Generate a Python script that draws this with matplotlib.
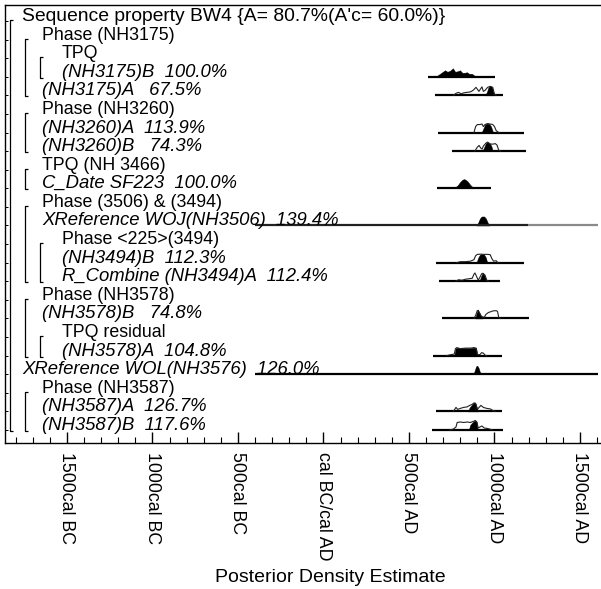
import matplotlib.pyplot as plt
from matplotlib.ticker import MultipleLocator, FixedLocator
import matplotlib.transforms as mtrans

plt.rcParams['font.family'] = ['Liberation Sans', 'DejaVu Sans']

# Row labels (top to bottom), indent level and whether italic (dated items)
labels = [
    "Sequence property BW4 {A= 80.7%(A'c= 60.0%)}",
    "Phase (NH3175)",
    "TPQ",
    "(NH3175)B  100.0%",
    "(NH3175)A   67.5%",
    "Phase (NH3260)",
    "(NH3260)A  113.9%",
    "(NH3260)B   74.3%",
    "TPQ (NH 3466)",
    "C_Date SF223  100.0%",
    "Phase (3506) & (3494)",
    "XReference WOJ(NH3506)  139.4%",
    "Phase <225>(3494)",
    "(NH3494)B  112.3%",
    "R_Combine (NH3494)A  112.4%",
    "Phase (NH3578)",
    "(NH3578)B   74.8%",
    "TPQ residual",
    "(NH3578)A  104.8%",
    "XReference WOL(NH3576)  126.0%",
    "Phase (NH3587)",
    "(NH3587)A  126.7%",
    "(NH3587)B  117.6%",
]
indent = [0, 1, 2, 2, 1, 1, 1, 1, 1, 1, 1, 1, 2, 2, 2, 1, 1, 2, 2, 0, 1, 1, 1]
italic = [0, 0, 0, 1, 1, 0, 1, 1, 0, 1, 0, 1, 0, 1, 1, 0, 1, 0, 1, 1, 0, 1, 1]

# Grouping brackets: (level, first row, last row)
brackets = [(0, 0, 22), (1, 1, 4), (2, 2, 3), (1, 5, 7), (1, 8, 9),
            (1, 10, 14), (2, 12, 14), (1, 15, 18), (2, 17, 18), (1, 20, 22)]

# Plotted range of each distribution (cal years, BC negative)
range_lo = {3: 611, 4: 652, 6: 670, 7: 751, 9: 664, 11: -400, 13: 658,
            14: 676, 16: 693, 18: 640, 19: -400, 21: 658, 22: 634}
range_hi = {3: 1003, 4: 1050, 6: 1170, 7: 1184, 9: 980, 11: 1605, 13: 1173,
            14: 1032, 16: 1202, 18: 1044, 19: 1605, 21: 1044, 22: 1050}
range_grey_from = {11: 1196}

# Prior (unmodelled) likelihoods - outline
prior_years = {
    4: [760, 775, 790, 805, 820, 840, 860, 875, 892, 909, 927, 935, 945, 960, 975, 990, 1000, 1010],
    6: [880, 890, 900, 915, 927, 935, 945, 960, 975, 990, 1000, 1010, 1020, 1030],
    7: [885, 900, 910, 920, 928, 935, 950, 960, 975, 990, 1005, 1015, 1025, 1035],
    13: [780, 800, 830, 860, 880, 890, 900, 920, 940, 960, 975, 985, 995, 1010, 1020],
    14: [775, 790, 810, 830, 850, 870, 880, 886, 895, 905, 915, 925, 933, 945, 955, 965],
    16: [880, 890, 900, 910, 925, 940, 950, 965, 975, 990, 1010, 1018, 1025, 1035],
    18: [720, 745, 765, 772, 780, 800, 830, 860, 880, 893, 900, 915, 925, 935, 945, 955],
    21: [760, 775, 785, 800, 820, 840, 855, 870, 880, 890, 900, 910, 921, 935, 955, 975, 990, 1005],
    22: [740, 760, 775, 782, 800, 820, 840, 860, 875, 888, 897, 905, 915, 927, 940, 960, 980, 990],
}
prior_dens = {
    4: [0, 2, 3, 1.5, 2.5, 3, 3.5, 5, 8, 4, 8.5, 4, 5, 8, 9, 8, 1, 0],
    6: [0, 6, 8, 8, 8.5, 6, 8, 9, 8.5, 8, 6, 2, 0.5, 0],
    7: [0, 4, 5.7, 3, 2, 5, 8, 9, 7, 7, 7.5, 6, 1, 0],
    13: [0, 1, 1, 1.5, 3, 7, 8.3, 8.5, 8.3, 8.3, 8, 4, 1.5, 2, 0],
    14: [0, 1.5, 1, 2, 2.5, 3, 7, 8.3, 5, 1, 4, 7.5, 8, 6, 1, 0],
    16: [0, 3, 8, 6, 2, 1, 4, 6, 6.5, 7.5, 7.8, 7, 1, 0],
    18: [0, 1, 1.5, 7, 8, 7, 7.5, 7.5, 8, 7.5, 1, 1, 3, 2.5, 0.5, 0],
    21: [0, 4, 2, 3, 4, 4.5, 6, 7, 8.5, 8, 2, 4, 6, 4, 3, 2.5, 1, 0],
    22: [0, 1, 3, 7.5, 8, 7.5, 8, 7.5, 8.5, 9.5, 8, 2, 3, 4, 2, 1.5, 0.5, 0],
}

# Posterior (modelled) densities - filled
post_years = {
    3: [640, 665, 690, 711, 725, 740, 757, 770, 785, 798, 812, 825, 839, 852, 868, 880, 895],
    4: [945, 955, 965, 975, 985, 995, 1000],
    6: [925, 935, 945, 956, 970, 980, 990, 995],
    7: [930, 940, 950, 960, 972, 982, 990],
    9: [757, 770, 785, 800, 812, 822, 832, 845, 858, 870, 886],
    11: [895, 905, 915, 925, 940, 950, 960, 970],
    13: [895, 905, 915, 927, 940, 950, 958],
    14: [912, 920, 928, 933, 942, 950, 957],
    16: [888, 895, 903, 912, 920, 928],
    18: [765, 772, 780, 800, 830, 860, 880, 893, 900],
    19: [878, 885, 893, 900, 908, 915, 925, 940, 945],
    21: [845, 855, 865, 875, 885, 892, 898, 905],
    22: [850, 858, 868, 878, 888, 896, 902],
}
post_dens = {
    3: [0, 1, 4, 6.5, 5, 6, 8.5, 5, 5.5, 6.5, 4, 4, 4.5, 3, 3, 1.5, 0],
    4: [0, 3, 8, 9.3, 8.5, 3, 0],
    6: [0, 4, 8, 9, 8.5, 6, 1, 0],
    7: [0, 4, 8, 9, 8, 5, 0],
    9: [0, 1, 3, 6.5, 8.5, 9.2, 8.5, 6.5, 3.5, 1.5, 0],
    11: [0, 3, 7, 9, 9, 7, 3, 0],
    13: [0, 5, 8, 8.5, 8, 5, 0],
    14: [0, 4, 7.5, 8, 6, 2, 0],
    16: [0, 5, 9, 6, 2, 0],
    18: [0, 7, 8, 7, 7.5, 7.5, 8, 7.5, 0],
    19: [0, 4, 8, 8.5, 6, 2, 1, 0.5, 0],
    21: [0, 4, 6, 8, 9, 7, 3, 0],
    22: [0, 5, 7, 8.5, 9.5, 8, 0],
}

tick_years = [-1500, -1000, -500, 0, 500, 1000, 1500]
tick_labels = ["1500cal BC", "1000cal BC", "500cal BC", "cal BC/cal AD",
               "500cal AD", "1000cal AD", "1500cal AD"]

W, H = 601, 589
fig = plt.figure(figsize=(W / 100, H / 100), dpi=100)
ax = fig.add_axes([5 / W, 1 - 443 / H, 596 / W, 438 / H])
ax.set_xlim(-1862, 1623)
ax.set_ylim(22.70, -0.86)

row_px = 18.59        # pixels per row
dens_scale = 1 / row_px

for s in ['top', 'left', 'bottom']:
    ax.spines[s].set_linewidth(1.0)
ax.spines['right'].set_visible(False)

ax.xaxis.set_major_locator(FixedLocator(tick_years))
ax.xaxis.set_minor_locator(MultipleLocator(100))
ax.set_xticklabels(tick_labels, rotation=270, fontsize=12.8)
ax.tick_params(axis='x', which='major', direction='in', length=8, width=1, pad=6.5)
ax.tick_params(axis='x', which='minor', direction='in', length=4, width=0.8)
ax.yaxis.set_major_locator(FixedLocator(range(len(labels))))
ax.tick_params(axis='y', which='major', direction='in', length=2.5, width=0.7,
               labelleft=False)

trans = mtrans.blended_transform_factory(ax.transAxes, ax.transData)

# labels
for r, (lab, lev, it) in enumerate(zip(labels, indent, italic)):
    xpx = 22 + 20 * lev
    fs = 13.9 if r == 0 else (13.3 if it else 12.8)
    ax.text((xpx - 5) / 596, r, lab, transform=trans, fontsize=fs,
            style='italic' if it else 'normal', va='baseline', ha='left')

# brackets
stub = 3 / 596
for lev, r0, r1 in brackets:
    bx = (10 + 15 * lev - 5) / 596
    ax.plot([bx + stub, bx, bx, bx + stub], [r0 - 0.05, r0 - 0.05, r1 + 0.05, r1 + 0.05],
            color='black', lw=0.9, transform=trans, solid_capstyle='butt')

# distributions
for r in range_lo:
    lo, hi = range_lo[r], range_hi[r]
    if r in range_grey_from:
        g = range_grey_from[r]
        ax.plot([lo, g], [r, r], color='#222222', lw=1.6, solid_capstyle='butt')
        ax.plot([g, hi], [r, r], color='#8a8a8a', lw=1.6, solid_capstyle='butt')
    else:
        ax.plot([lo, hi], [r, r], color='black', lw=1.6, solid_capstyle='butt')
    if r in prior_years:
        yy = [r - d * dens_scale for d in prior_dens[r]]
        ax.plot(prior_years[r], yy, color='#222222', lw=0.8)
    if r in post_years:
        yy = [r - d * dens_scale for d in post_dens[r]]
        ax.fill_between(post_years[r], r, yy, color='black', lw=0.3)

fig.text(330 / W, 1 - 577 / H, "Posterior Density Estimate", ha='center',
         va='center', fontsize=14)

fig.savefig("out.png", dpi=100)
